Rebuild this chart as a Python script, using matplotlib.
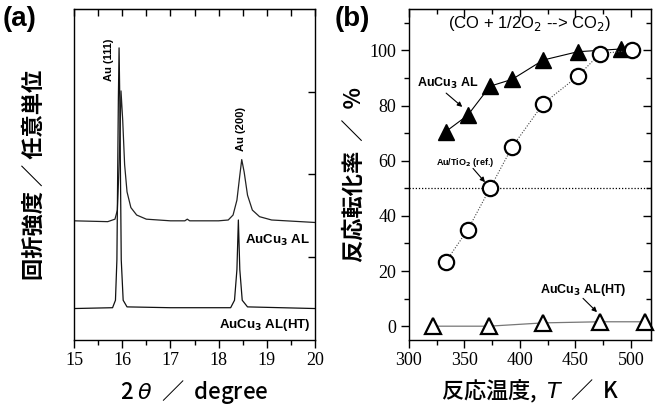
import matplotlib
matplotlib.use("Agg")
import matplotlib.pyplot as plt
from matplotlib.ticker import MultipleLocator, FixedLocator, NullLocator

# ---- panel (a): XRD patterns ----
al_x = [15.0, 15.7, 15.85, 15.90, 15.94, 15.975, 16.01, 16.05, 16.10, 16.18, 16.30, 16.50,
        17.0, 17.30, 17.35, 17.40, 18.0, 18.20, 18.30, 18.38, 18.44, 18.48, 18.53, 18.60,
        18.70, 18.85, 19.10, 20.0]
al_y = [1.44, 1.43, 1.46, 1.57, 2.18, 3.01, 2.66, 2.12, 1.79, 1.60, 1.51, 1.46,
        1.44, 1.44, 1.46, 1.44, 1.44, 1.45, 1.51, 1.69, 1.99, 2.18, 2.03, 1.75,
        1.57, 1.49, 1.45, 1.42]

ht_x = [15.0, 15.80, 15.86, 15.89, 15.92, 15.935, 15.95, 15.98, 16.02, 16.10, 17.0,
        18.25, 18.33, 18.38, 18.41, 18.44, 18.49, 18.60, 20.0]
ht_y = [0.38, 0.39, 0.48, 0.97, 2.90, 3.53, 2.90, 0.97, 0.48, 0.40, 0.39,
        0.39, 0.48, 0.85, 1.45, 0.85, 0.48, 0.40, 0.38]

# ---- panel (b): CO conversion ----
al_T = [333, 353, 373, 393, 421, 452, 491]
al_conv = [70.5, 76.5, 87, 89.5, 96.5, 99.5, 100.5]

ref_T = [333, 353, 373, 393, 421, 452, 472, 501]
ref_conv = [23.3, 35, 50, 65, 80.7, 90.6, 98.8, 100]

ht_T = [322, 372, 421, 472, 513]
ht_conv = [0, 0, 1.2, 1.6, 1.6]

jp = ["Noto Sans CJK JP", "DejaVu Sans"]
tickfont = "Liberation Serif"
lab_font = "Liberation Sans"

fig = plt.figure(figsize=(6.59, 4.12), dpi=100)
ax1 = fig.add_axes([0.1123, 0.1748, 0.3657, 0.8034])
ax2 = fig.add_axes([0.6206, 0.1748, 0.3672, 0.8034])

for ax in (ax1, ax2):
    for s in ax.spines.values():
        s.set_linewidth(1.0)

# (a)
ax1.plot(al_x, al_y, color="#222222", lw=0.9)
ax1.plot(ht_x, ht_y, color="#111111", lw=0.9)
ax1.set_xlim(15, 20)
ax1.set_ylim(0, 4)
ax1.xaxis.set_major_locator(MultipleLocator(1))
ax1.xaxis.set_minor_locator(MultipleLocator(0.5))
ax1.yaxis.set_major_locator(FixedLocator([1, 2, 3]))
ax1.yaxis.set_minor_locator(NullLocator())
ax1.tick_params(axis="x", which="both", direction="out", bottom=True, top=False)
ax1.tick_params(axis="x", which="major", length=6, width=1, labelsize=13, pad=3)
ax1.tick_params(axis="x", which="minor", length=3.5, width=1)
ax1.tick_params(axis="y", which="major", left=False, right=True, direction="in",
                labelleft=False, length=5, width=1)
for lab in ax1.get_xticklabels():
    lab.set_fontfamily(tickfont)
top1 = ax1.secondary_xaxis("top")
top1.xaxis.set_major_locator(MultipleLocator(1))
top1.xaxis.set_minor_locator(MultipleLocator(0.5))
top1.tick_params(which="both", direction="in", labeltop=False, width=1)
top1.tick_params(which="major", length=5)
top1.tick_params(which="minor", length=5)

ax1.text(15.72, 3.38, "Au (111)", rotation=90, ha="center", va="center",
         fontsize=8, fontweight="bold", family=lab_font)
ax1.text(18.46, 2.55, "Au (200)", rotation=90, ha="center", va="center",
         fontsize=8, fontweight="bold", family=lab_font)
ax1.text(19.9, 1.2, "AuCu$_\\mathbf{3}$ AL", ha="right", va="center",
         fontsize=9.5, fontweight="bold", family=lab_font)
ax1.text(19.9, 0.18, "AuCu$_\\mathbf{3}$ AL(HT)", ha="right", va="center",
         fontsize=9.5, fontweight="bold", family=lab_font)

ax1.set_xlabel("2 $\\theta$  ／  degree", family=jp, fontsize=16, fontweight="medium",
               labelpad=6)
ax1.set_ylabel("回折強度 ／ 任意単位", family=jp, fontsize=16, fontweight="bold",
               labelpad=20)
fig.text(0.004, 0.985, "(a)", fontsize=20, fontweight="bold", family=lab_font,
         va="top", ha="left")

# (b)
ax2.axhline(50, color="black", lw=0.9, ls=(0, (1, 1.5)))
ax2.plot(al_T, al_conv, color="black", lw=0.8, marker="^", ms=12,
         markerfacecolor="black", markeredgecolor="black")
ax2.plot(ref_T, ref_conv, color="#444444", lw=0.8, ls=(0, (1, 1.5)), marker="o", ms=11,
         markerfacecolor="white", markeredgecolor="black", markeredgewidth=1.6)
ax2.plot(ht_T, ht_conv, color="#777777", lw=0.9, marker="^", ms=12,
         markerfacecolor="white", markeredgecolor="black", markeredgewidth=1.6,
         clip_on=False)
ax2.set_xlim(300, 518)
ax2.set_ylim(-5, 115)
ax2.xaxis.set_major_locator(MultipleLocator(50))
ax2.xaxis.set_minor_locator(MultipleLocator(25))
ax2.yaxis.set_major_locator(FixedLocator([0, 20, 40, 60, 80, 100]))
ax2.yaxis.set_minor_locator(FixedLocator([10, 30, 50, 70, 90, 110]))
ax2.tick_params(which="both", direction="out", bottom=True, left=True, width=1)
ax2.tick_params(which="major", length=6, labelsize=13, pad=3)
ax2.tick_params(which="minor", length=3.5)
for lab in ax2.get_xticklabels() + ax2.get_yticklabels():
    lab.set_fontfamily(tickfont)
# inward ticks on top and right
sec_x = ax2.secondary_xaxis("top")
sec_x.xaxis.set_major_locator(MultipleLocator(50))
sec_x.xaxis.set_minor_locator(MultipleLocator(25))
sec_x.tick_params(which="both", direction="in", labeltop=False, width=1)
sec_x.tick_params(which="major", length=6)
sec_x.tick_params(which="minor", length=3.5)
sec_y = ax2.secondary_yaxis("right")
sec_y.yaxis.set_major_locator(FixedLocator([0, 20, 40, 60, 80, 100]))
sec_y.yaxis.set_minor_locator(FixedLocator([10, 30, 50, 70, 90, 110]))
sec_y.tick_params(which="both", direction="in", labelright=False, width=1)
sec_y.tick_params(which="major", length=6)
sec_y.tick_params(which="minor", length=3.5)

ax2.text(0.5, 0.955, "(CO + 1/2O$_2$ --> CO$_2$)", transform=ax2.transAxes,
         ha="center", va="center", fontsize=12, family=lab_font)

arrow = dict(arrowstyle="-|>", color="black", lw=0.8, mutation_scale=7,
             shrinkA=0, shrinkB=0)
ax2.text(335, 88, "AuCu$_\\mathbf{3}$ AL", ha="center", va="center",
         fontsize=9, fontweight="bold", family=lab_font)
ax2.annotate("", xy=(348, 79.5), xytext=(333.5, 84.5), arrowprops=arrow)
ax2.text(351, 59.4, "Au/TiO$_\\mathbf{2}$ (ref.)", ha="center", va="center",
         fontsize=6.5, fontweight="bold", family=lab_font)
ax2.annotate("", xy=(368.5, 52.2), xytext=(357.7, 57.2), arrowprops=arrow)
ax2.text(456.8, 13, "AuCu$_\\mathbf{3}$ AL(HT)", ha="center", va="center",
         fontsize=9, fontweight="bold", family=lab_font)
ax2.annotate("", xy=(469.4, 5.1), xytext=(456.8, 10.1), arrowprops=arrow)

ax2.set_xlabel("反応温度,  $T$  ／  K", family=jp, fontsize=16, fontweight="medium",
               labelpad=6)
ax2.set_ylabel("反応転化率  ／  %", family=jp, fontsize=16, fontweight="bold",
               labelpad=3)
fig.text(0.508, 0.985, "(b)", fontsize=20, fontweight="bold", family=lab_font,
         va="top", ha="left")

fig.savefig("out.png", dpi=100)
